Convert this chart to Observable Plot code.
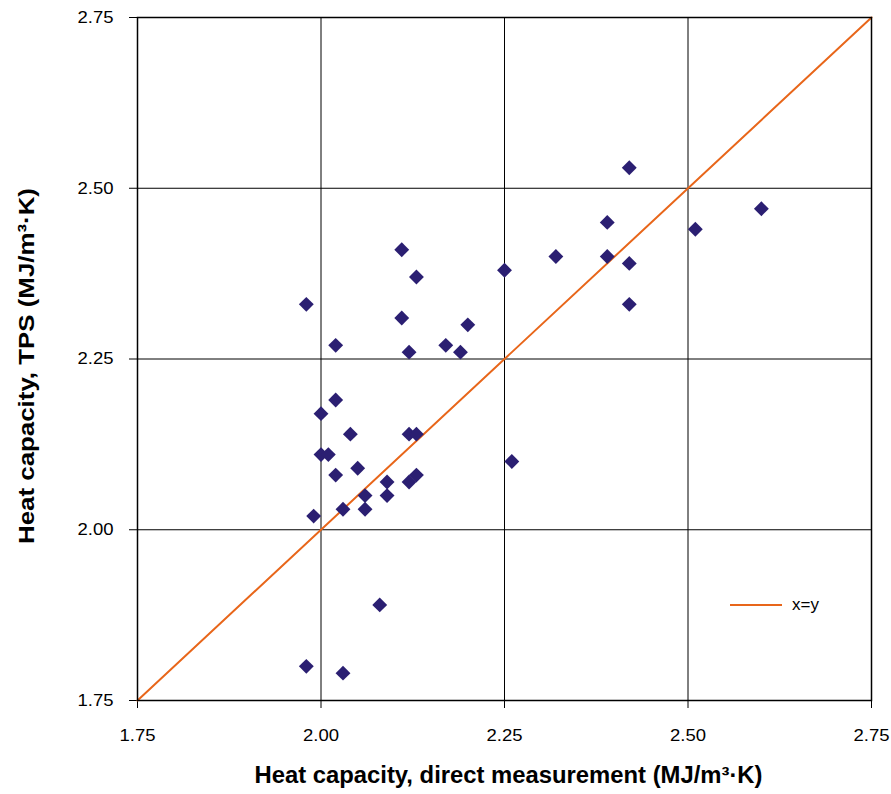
<!DOCTYPE html>
<html>
<head>
<meta charset="utf-8">
<script src="https://cdn.jsdelivr.net/npm/d3@7"></script>
<script src="https://cdn.jsdelivr.net/npm/@observablehq/plot@0.6"></script>
<style>
  body { margin: 0; background: white; }
  #wrap { position: relative; width: 891px; height: 794px; }
  #legend { position: absolute; left: 730px; top: 595px; display: flex; align-items: center;
            font-family: "Liberation Sans", Arial, sans-serif; font-size: 17px; color: black; }
  #legend .sw { width: 52px; height: 2px; background: #e8661a; margin-right: 10px; }
</style>
</head>
<body>
<div id="wrap"><div id="legend"><div class="sw"></div><span>x=y</span></div></div>
<script>
// Heat capacity, direct measurement (MJ/m³·K)
const direct = [1.98, 1.98, 1.99, 2.02, 2.02, 2.00, 2.00, 2.01, 2.04, 2.02,
                2.05, 2.03, 2.06, 2.06, 2.09, 2.09, 2.08, 2.03, 2.11, 2.11,
                2.13, 2.12, 2.12, 2.13, 2.12, 2.13, 2.17, 2.19, 2.20, 2.25,
                2.26, 2.32, 2.39, 2.39, 2.42, 2.42, 2.42, 2.51, 2.60];
// Heat capacity, TPS (MJ/m³·K)
const tps    = [2.33, 1.80, 2.02, 2.27, 2.19, 2.17, 2.11, 2.11, 2.14, 2.08,
                2.09, 2.03, 2.05, 2.03, 2.07, 2.05, 1.89, 1.79, 2.41, 2.31,
                2.37, 2.26, 2.14, 2.14, 2.07, 2.08, 2.27, 2.26, 2.30, 2.38,
                2.10, 2.40, 2.45, 2.40, 2.53, 2.39, 2.33, 2.44, 2.47];
const ticks = [1.75, 2.00, 2.25, 2.50, 2.75];
const identityEnds = [1.75, 2.75];
const xTitle = "Heat capacity, direct measurement (MJ/m³·K)";
const yTitle = "Heat capacity, TPS (MJ/m³·K)";

const points = direct.map((d, i) => ({x: d, y: tps[i]}));
const identity = identityEnds.map(v => ({x: v, y: v}));
const fmt = d3.format(".2f");

const chart = Plot.plot({
  width: 891,
  height: 794,
  marginLeft: 137,
  marginRight: 20,
  marginTop: 17,
  marginBottom: 94,
  style: {fontFamily: "'Liberation Sans', Arial, sans-serif", fontSize: "17px", background: "white", color: "black", overflow: "visible"},
  x: {domain: [1.75, 2.75]},
  y: {domain: [1.75, 2.75]},
  marks: [
    Plot.gridX(ticks, {stroke: "black", strokeOpacity: 1, strokeWidth: 1}),
    Plot.gridY(ticks, {stroke: "black", strokeOpacity: 1, strokeWidth: 1}),
    Plot.axisX(ticks, {tickFormat: fmt, tickSize: 8, tickPadding: 20, fontSize: 17,
                       label: xTitle, labelAnchor: "center", labelOffset: 82}),
    Plot.axisY(ticks, {tickFormat: fmt, tickSize: 8, tickPadding: 16, fontSize: 17,
                       label: yTitle, labelAnchor: "center", labelOffset: 119}),
    Plot.line(identity, {x: "x", y: "y", stroke: "#e8661a", strokeWidth: 2}),
    Plot.dot(points, {x: "x", y: "y", symbol: "diamond2", r: 6.7, fill: "#2b1f72", stroke: "none"}),
    Plot.frame({stroke: "black", strokeWidth: 1.5})
  ]
});

const svg = d3.select(chart);
// axis titles: bold, no arrows, stretched like the original
svg.selectAll('g[aria-label="x-axis label"] text')
  .each(function() { this.textContent = this.textContent.replace(/\s*[↑→↓←]\s*/g, ""); })
  .attr("font-weight", "bold").attr("font-size", 23).attr("dx", 4)
  .attr("textLength", 508).attr("lengthAdjust", "spacingAndGlyphs");
svg.selectAll('g[aria-label="y-axis label"] text')
  .each(function() { this.textContent = this.textContent.replace(/\s*[↑→↓←]\s*/g, ""); })
  .attr("font-weight", "bold").attr("font-size", 22).attr("dx", -7)
  .attr("textLength", 356).attr("lengthAdjust", "spacingAndGlyphs");
// tick labels slightly wider, as in the original
svg.selectAll('g[aria-label="x-axis tick label"] text, g[aria-label="y-axis tick label"] text')
  .attr("textLength", 36).attr("lengthAdjust", "spacingAndGlyphs");

document.getElementById("wrap").prepend(chart);
</script>
</body>
</html>
